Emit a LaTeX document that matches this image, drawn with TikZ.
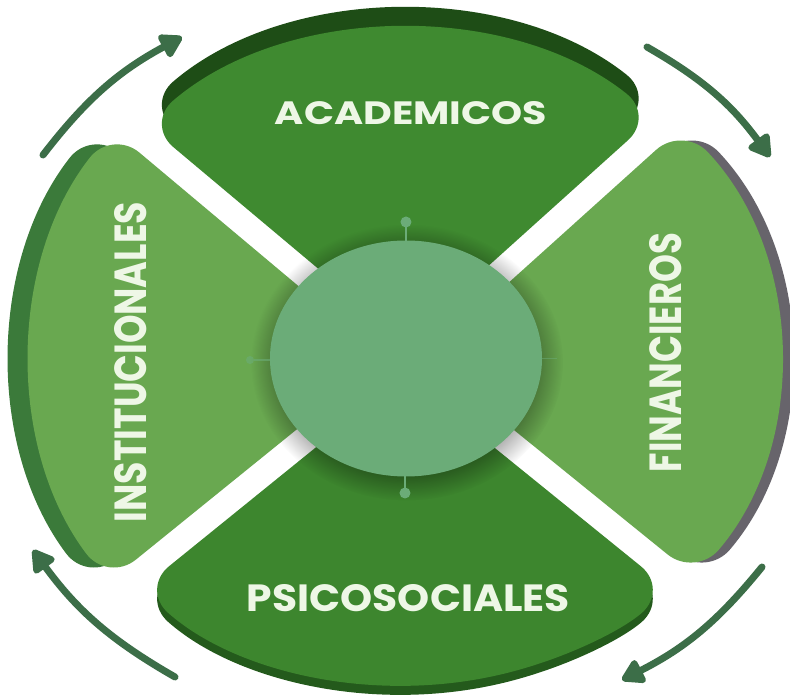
\documentclass[tikz,border=0pt]{standalone}
\usepackage{fontspec}
\usepackage{graphicx}
\newfontfamily\labfont{Poppins}
\usetikzlibrary{intersections,arrows.meta,calc,fadings}
\definecolor{segdark}{HTML}{3F8A30}
\definecolor{segdarkB}{HTML}{3D862E}
\definecolor{seglight}{HTML}{69A850}
\definecolor{rimTc}{HTML}{1E4D16}
\definecolor{rimBc}{HTML}{245A1C}
\definecolor{rimLc}{HTML}{3B7A3A}
\definecolor{rimRc}{HTML}{67646B}
\definecolor{hubc}{HTML}{6BAC78}
\definecolor{arrowc}{HTML}{3C6E48}
\definecolor{labc}{HTML}{EEF7E6}

% edge: #1 name, #2 band angle, #3 offset angle, #4 edge direction, #5 outline path
\newcommand\mkedge[5]{%
  \path (#2:130) ++(#3:13) coordinate (p#1) ++(#4+180:90) coordinate (i#1);
  \path[name path=e#1] (p#1) ++(#4+180:100) -- ++(#4:650);
  \path[name intersections={of=#5 and e#1, by={c#1}}];}
% segment: #1 style, #2 #3 edges, #4 #5 radii, #6 add to end angle
\newcommand\seg[6]{%
  \fill[#1] let \p1=(c#2), \p2=(c#3),
    \n1={atan2(\y1/#5,\x1/#4)}, \n2={atan2(\y2/#5,\x2/#4)+#6} in
    (i#2) -- (c#2) arc[start angle=\n1, end angle=\n2, x radius=#4pt, y radius=#5pt]
    -- (i#3) -- cycle;}

\begin{document}
\begin{tikzpicture}[x=1pt,y=1pt,
  segR/.style={rounded corners=36pt},
  lab/.style={inner sep=0pt, text=labc, font=\labfont\bfseries},
  pin/.style={draw=hubc, line width=2.5pt},
  cyc/.style={draw=arrowc, line width=7pt, line cap=round,
    -{Triangle[length=25pt,width=28pt,round]}}]
\useasboundingbox[fill=white] (-405,-336.5) rectangle (385,358.5);

% outlines
\path[name path=ellTB] (0,0) ellipse[x radius=372pt, y radius=327pt];
\path[name path=ellL] (0,0) ellipse[x radius=372pt, y radius=372pt];
\path[name path=ellR] (0,0) ellipse[x radius=372pt, y radius=350pt];

\mkedge{TR}{42}{132}{42}{ellTB}
\mkedge{TL}{140}{50}{140}{ellTB}
\mkedge{LU}{140}{230}{140}{ellL}
\mkedge{LD}{219}{129}{219}{ellL}
\mkedge{BL}{219}{309}{219}{ellTB}
\mkedge{BR}{321}{231}{321}{ellTB}
\mkedge{RD}{321}{51}{321}{ellR}
\mkedge{RU}{42}{-48}{42}{ellR}

% rims
\begin{scope}[transform canvas={yshift=19pt}]
  \seg{rimTc,segR}{TR}{TL}{372}{327}{0}
\end{scope}
\begin{scope}[transform canvas={xshift=-20pt}]
  \seg{rimLc,segR}{LU}{LD}{372}{372}{360}
\end{scope}
\begin{scope}[transform canvas={yshift=-9pt}]
  \seg{rimBc,segR}{BL}{BR}{372}{327}{0}
\end{scope}
\begin{scope}[transform canvas={xshift=11pt}]
  \seg{rimRc,segR}{RD}{RU}{372}{350}{0}
\end{scope}

% segments
\seg{segdark,segR}{TR}{TL}{372}{327}{0}
\seg{seglight,segR}{LU}{LD}{372}{372}{360}
\seg{segdarkB,segR}{BL}{BR}{372}{327}{0}
\seg{seglight,segR}{RD}{RU}{372}{350}{0}

% hub shadow and hub
\fill[black, opacity=0.35, path fading=circle with fuzzy edge 20 percent]
  (2,-4) ellipse[x radius=156pt, y radius=138pt];
\fill[hubc] (1,0) ellipse[x radius=136pt, y radius=118pt];

% pins
\draw[pin] (1,117) -- (1,132);
\fill[hubc] (1,136.5) circle[radius=5.5pt];
\draw[pin] (0,-117) -- (0,-130);
\fill[hubc] (0,-134.5) circle[radius=5.5pt];
\draw[pin, opacity=0.6, line width=1.5pt] (-134,-1.5) -- (-151,-1.5);
\fill[hubc, opacity=0.6] (-155,-1.5) circle[radius=4pt];
\draw[pin, opacity=0.5, line width=1.5pt] (137,0) -- (152,0);

% labels
\node[lab] (tAca) at (6,245) {\resizebox{272pt}{23pt}{ACADEMICOS}};
\node[lab] (tPsi) at (3.5,-240) {\resizebox{323pt}{27pt}{PSICOSOCIALES}};
\node[lab, rotate=90] (tIns) at (-274,-3.5) {\resizebox{320pt}{32pt}{INSTITUCIONALES}};
\node[lab, rotate=90] (tFin) at (261,6) {\resizebox{239pt}{32pt}{FINANCIEROS}};

% cycle arrows
\coordinate (a1s) at (-362,203.5);
\coordinate (a1e) at (-223,321.5);
\coordinate (a2s) at (242,311.5);
\coordinate (a2e) at (365,201.5);
\coordinate (a3s) at (357,-208.5);
\coordinate (a3e) at (217,-321.5);
\coordinate (a4s) at (-230,-318.5);
\coordinate (a4e) at (-372,-191.5);
\draw[cyc] (a1s) to[bend left=12] (a1e);
\draw[cyc] (a2s) to[bend left=12] (a2e);
\draw[cyc] (a3s) to[bend left=12] (a3e);
\draw[cyc] (a4s) to[bend left=12] (a4e);
\end{tikzpicture}
\end{document}
